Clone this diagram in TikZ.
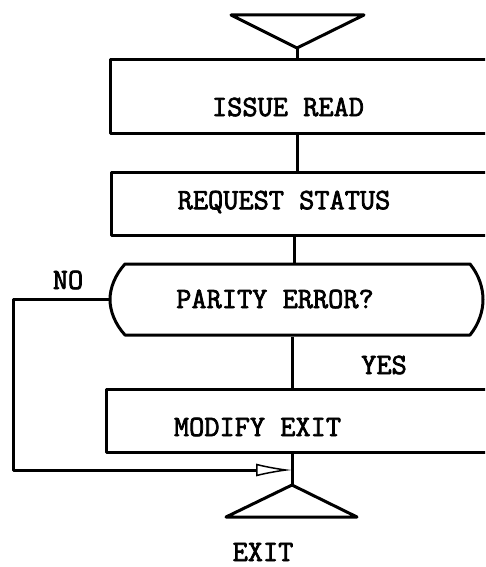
\documentclass[tikz,border=0pt]{standalone}
\usepackage{fontspec}
\newfontfamily\typewr{Latin Modern Mono}[FakeBold=2.5]
\usetikzlibrary{arrows.meta}
\begin{document}
\begin{tikzpicture}[x=1pt, y=-1pt, line width=3pt, line join=round,
  box/.style={draw, rectangle, inner sep=0pt},
  hidden/.style={rectangle, inner sep=0pt},
  lbl/.style={font=\fontsize{29.5}{34}\selectfont\typewr, inner sep=0pt, anchor=center},
  flow/.style={line width=3pt},
  noflow/.style={line width=3pt, -{Latex[open, length=36pt, width=13pt, line width=1.5pt]}}]
\useasboundingbox (0,0) rectangle (485,567);
\clip (0,0) rectangle (485,567);

% entry and exit connectors
\coordinate (topapex) at (297,48);
\coordinate (spine) at (294,0);
\coordinate (exitapex) at (292,485);
\coordinate (nobend) at (13,470);
\coordinate (join) at (292,470);

% entry triangle
\draw (231,15) -- (364,15) -- (topapex) -- cycle;

% process boxes (they run on past the right margin)
\node[box, minimum width=390pt, minimum height=73pt] (b1) at (305,96.5) {};
\node[lbl] (t1) at (288,107) {ISSUE READ};

\node[box, minimum width=389pt, minimum height=63pt] (b2) at (305.5,203.5) {};
\node[lbl] (t2) at (284,202) {REQUEST STATUS};

% decision with rounded ends
\node[hidden, minimum width=373pt, minimum height=71pt] (d) at (296.5,299.5) {};
\draw (125,264) -- (470,264)
  .. controls (479,275) and (483,288) .. (483,299.5)
  .. controls (483,311) and (479,324) .. (470,335)
  -- (125,335)
  .. controls (115,324) and (110,311) .. (110,299.5)
  .. controls (110,288) and (115,275) .. (125,264) -- cycle;
\node[lbl] (t3) at (275,299) {PARITY ERROR?};

\node[box, minimum width=394pt, minimum height=63pt] (b3) at (303,420.5) {};
\node[lbl] (t4) at (257.5,427) {MODIFY EXIT};

% exit triangle
\draw (exitapex) -- (357,517) -- (226,517) -- cycle;

% connectors
\draw[flow] (topapex) -- (topapex |- b1.north);
\draw[flow] (b1.south -| topapex) -- (b2.north -| topapex);
\draw[flow] (b2.south -| spine) -- (d.north -| spine);
\draw[flow] (d.south -| exitapex) -- (b3.north -| exitapex);
\draw[flow] (b3.south -| exitapex) -- (exitapex);
\draw[noflow] (d.west) -| (nobend) -- (join);

% branch labels
\node[lbl] (no) at (68,280) {NO};
\node[lbl] (yes) at (384,365) {YES};
\node[lbl] (exitlbl) at (263,552) {EXIT};
\end{tikzpicture}
\end{document}
